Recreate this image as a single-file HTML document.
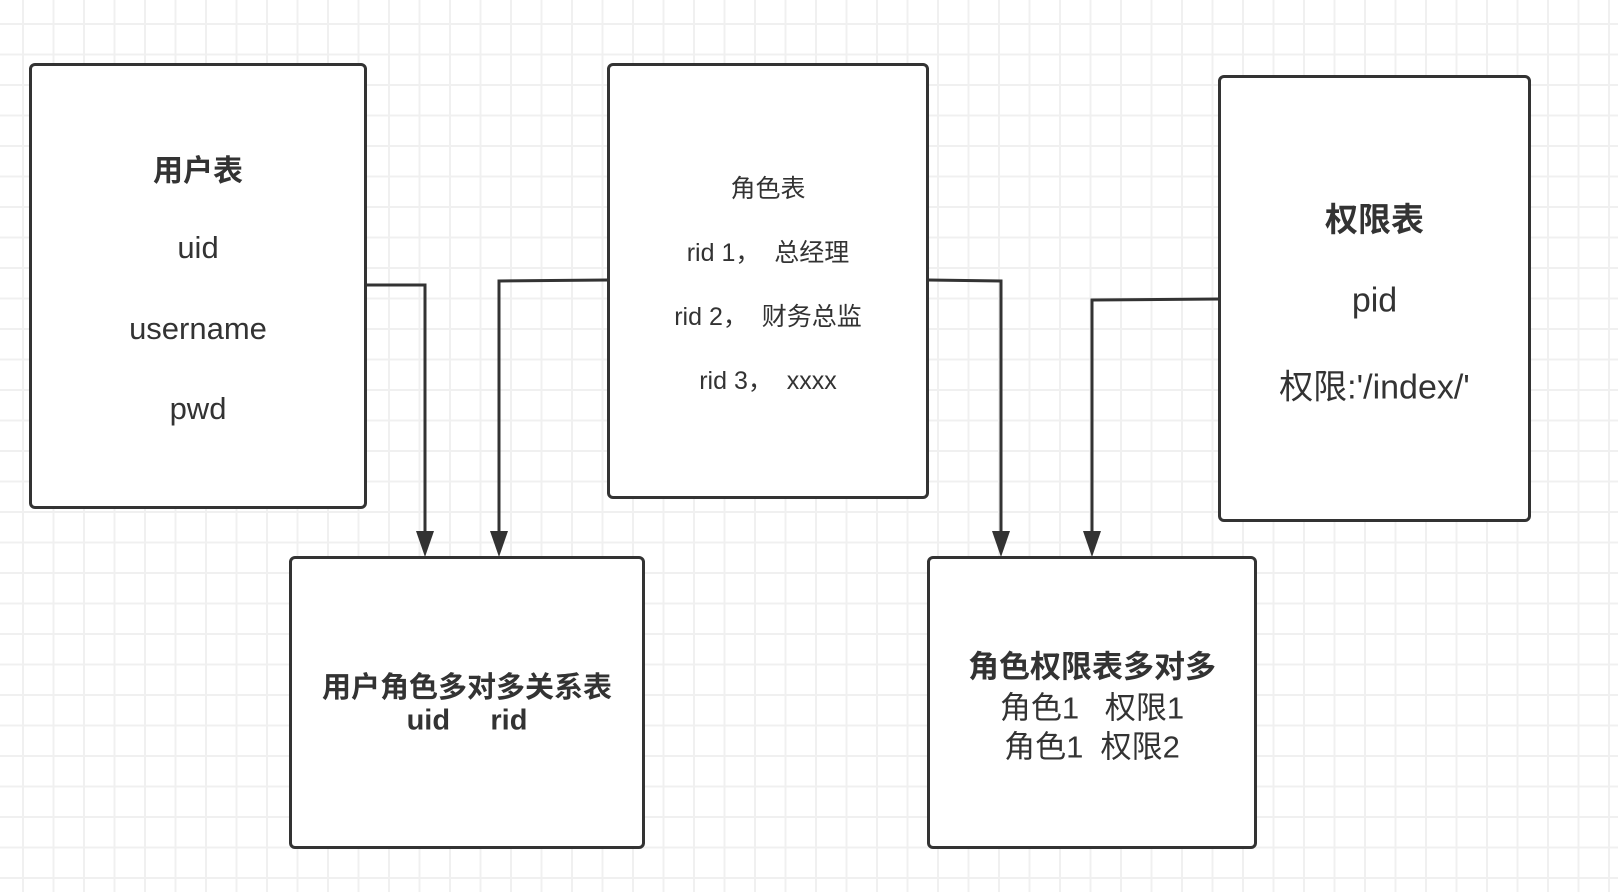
<!DOCTYPE html>
<html><head><meta charset="utf-8"><style>
html,body{margin:0;padding:0}
body{width:1618px;height:892px;position:relative;overflow:hidden;background:#fff;
background-image:linear-gradient(#f0f0f0 2px,transparent 2px),linear-gradient(90deg,#f0f0f0 2px,transparent 2px);
background-size:30.5px 30.5px;background-position:22px 23px;
font-family:"Liberation Sans","Noto Sans CJK SC",sans-serif;color:#333}
.b{position:absolute;border:3px solid #333;border-radius:6px;background:#fff;box-sizing:border-box}
.t{position:absolute;left:0;right:0;text-align:center;transform:translateY(-50%);white-space:pre}
svg{position:absolute;left:0;top:0}
</style></head><body>
<svg width="1618" height="892">
<g stroke="#333" stroke-width="3" fill="none">
<polyline points="366,285 425,285 425,542"/>
<polyline points="608,280 499,281 499,542"/>
<polyline points="928,280 1001,281 1001,542"/>
<polyline points="1219,299 1092,300 1092,542"/>
</g>
<g fill="#333">
<polygon points="416,531 434,531 425,557"/>
<polygon points="490,531 508,531 499,557"/>
<polygon points="992,531 1010,531 1001,557"/>
<polygon points="1083,531 1101,531 1092,557"/>
</g>
</svg>
<div class="b" style="left:29px;top:63px;width:338px;height:446px">
<div class="t" style="top:102px;font-size:30px;font-weight:bold">用户表</div>
<div class="t" style="top:182px;font-size:31px">uid</div>
<div class="t" style="top:263px;font-size:31px">username</div>
<div class="t" style="top:343px;font-size:31px">pwd</div>
</div>
<div class="b" style="left:607px;top:63px;width:322px;height:436px">
<div class="t" style="top:121px;font-size:25px">角色表</div>
<div class="t" style="top:185px;font-size:25px">rid 1，  总经理</div>
<div class="t" style="top:249px;font-size:25px">rid 2，  财务总监</div>
<div class="t" style="top:313px;font-size:25px">rid 3，  xxxx</div>
</div>
<div class="b" style="left:1218px;top:75px;width:313px;height:447px">
<div class="t" style="top:139px;font-size:33px;font-weight:bold">权限表</div>
<div class="t" style="top:223px;font-size:34px">pid</div>
<div class="t" style="top:306px;font-size:34px">权限:'/index/'</div>
</div>
<div class="b" style="left:289px;top:556px;width:356px;height:293px">
<div class="t" style="top:126px;font-size:29px;font-weight:bold">用户角色多对多关系表</div>
<div class="t" style="top:162px;font-size:29px;font-weight:bold">uid     rid</div>
</div>
<div class="b" style="left:927px;top:556px;width:330px;height:293px">
<div class="t" style="top:105px;font-size:31px;font-weight:bold">角色权限表多对多</div>
<div class="t" style="top:146px;font-size:31px">角色1   权限1</div>
<div class="t" style="top:185px;font-size:31px">角色1  权限2</div>
</div>
</body></html>
